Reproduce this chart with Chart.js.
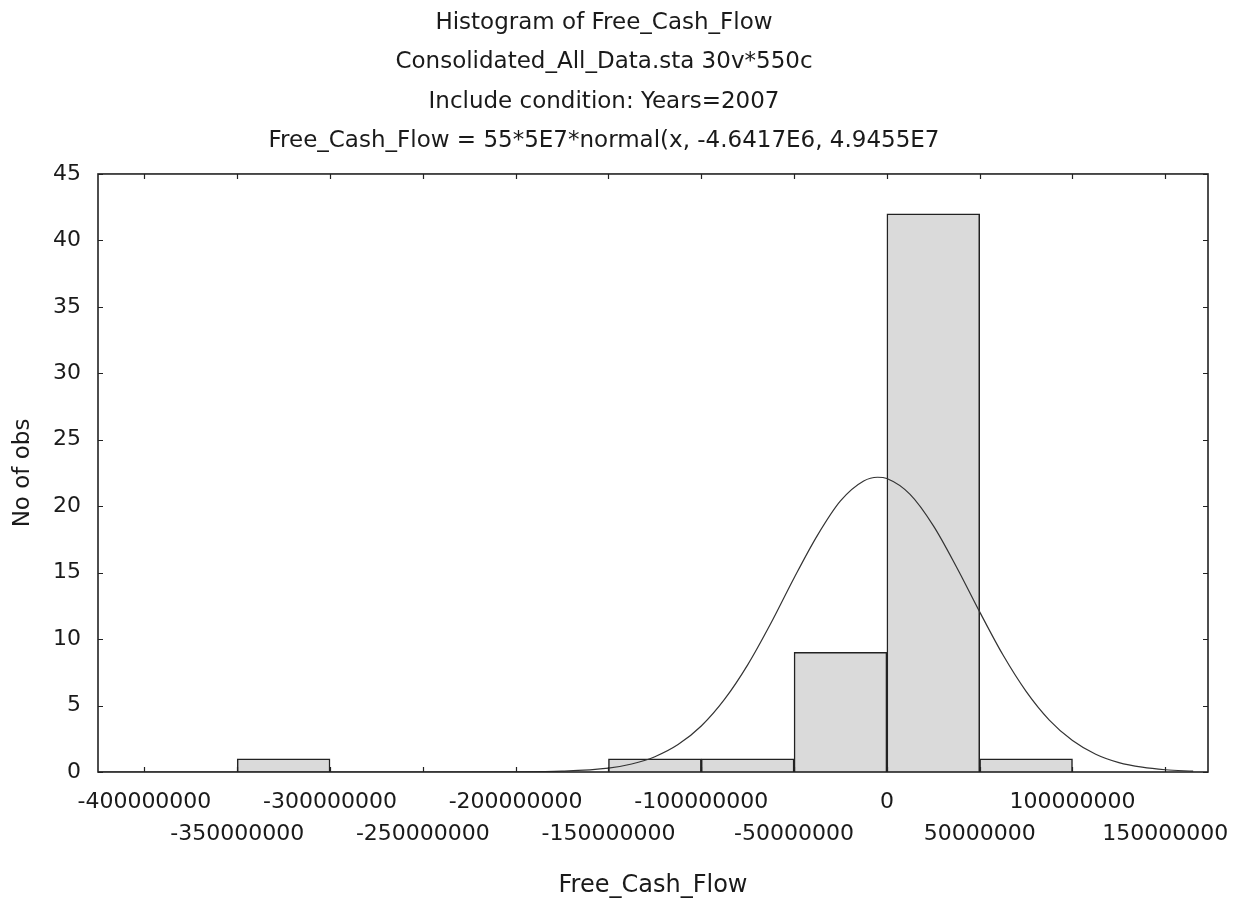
<!DOCTYPE html>
<html>
<head>
<meta charset="utf-8">
<title>Histogram of Free_Cash_Flow</title>
<script src="https://cdn.jsdelivr.net/npm/chart.js@4/dist/chart.umd.min.js"></script>
<style>
  html, body { margin: 0; padding: 0; background: #fff; }
  #wrap { position: relative; width: 1239px; height: 899px; }
</style>
</head>
<body>
<div id="wrap"><canvas id="histChart"></canvas></div>
<script>
// --- data ---
const binCenters = [-325000000, -275000000, -225000000, -175000000, -125000000, -75000000, -25000000, 25000000, 75000000];
const binCounts  = [1, 0, 0, 0, 1, 1, 9, 42, 1];

// fitted normal curve, read at points along its path
const curveX = [-425e6, -250e6, -200e6, -175e6, -150e6, -137.5e6, -125e6, -112.5e6, -100e6, -87.5e6, -75e6, -62.5e6,
                -50e6, -37.5e6, -25e6, -12.5e6, -5e6, 0, 12.5e6, 25e6, 37.5e6, 50e6, 62.5e6, 75e6, 87.5e6,
                100e6, 112.5e6, 125e6, 137.5e6, 150e6, 165e6];
const curveY = [0, 0, 0.01, 0.06, 0.29, 0.6, 1.15, 2.06, 3.46, 5.46, 8.06, 11.19,
                14.6, 17.79, 20.4, 21.9, 22.18, 22.08, 20.89, 18.54, 15.43, 12.05, 8.82, 6.07, 3.91,
                2.37, 1.34, 0.71, 0.36, 0.17, 0.06];

const xTickValues = [-400000000, -350000000, -300000000, -250000000, -200000000, -150000000,
                     -100000000, -50000000, 0, 50000000, 100000000, 150000000];
const xTickLabels = ['-400000000', '-350000000', '-300000000', '-250000000', '-200000000', '-150000000',
                     '-100000000', '-50000000', '0', '50000000', '100000000', '150000000'];
const yTickValues = [0, 5, 10, 15, 20, 25, 30, 35, 40, 45];

const titleLines = [
    'Histogram of Free_Cash_Flow',
    'Consolidated_All_Data.sta 30v*550c',
    'Include condition: Years=2007',
    'Free_Cash_Flow = 55*5E7*normal(x, -4.6417E6, 4.9455E7'
];

Chart.defaults.font.family = '"DejaVu Sans", "Liberation Sans", Arial, sans-serif';
Chart.defaults.color = '#1a1a1a';

// frame round the plot + short inward ticks on all four sides
const framePlugin = {
    id: 'frame',
    afterDraw(chart) {
        const { ctx, chartArea: a, scales: { x, y } } = chart;
        ctx.save();
        ctx.strokeStyle = '#222';
        ctx.lineWidth = 1.6;
        ctx.strokeRect(a.left, a.top, a.right - a.left, a.bottom - a.top);
        ctx.lineWidth = 1.2;
        ctx.beginPath();
        x.ticks.forEach(t => {
            const px = Math.round(x.getPixelForValue(t.value)) + 0.5;
            ctx.moveTo(px, a.bottom); ctx.lineTo(px, a.bottom - 5);
            ctx.moveTo(px, a.top); ctx.lineTo(px, a.top + 5);
        });
        y.ticks.forEach(t => {
            const py = Math.round(y.getPixelForValue(t.value)) + 0.5;
            ctx.moveTo(a.left, py); ctx.lineTo(a.left + 5, py);
            ctx.moveTo(a.right, py); ctx.lineTo(a.right - 5, py);
        });
        ctx.stroke();
        ctx.restore();
    }
};

const ctx = document.getElementById('histChart').getContext('2d');
new Chart(ctx, {
    type: 'bar',
    data: {
        datasets: [{
            type: 'line',
            label: 'normal fit',
            data: curveX.map((v, i) => ({ x: v, y: curveY[i] })),
            borderColor: '#333',
            borderWidth: 1.2,
            pointRadius: 0,
            cubicInterpolationMode: 'monotone',
            fill: false,
            order: 0
        }, {
            label: 'No of obs',
            data: binCenters.map((v, i) => ({ x: v, y: binCounts[i] })),
            backgroundColor: '#dadada',
            borderColor: '#222',
            borderWidth: 1.5,
            barPercentage: 1,
            categoryPercentage: 1,
            order: 1
        }]
    },
    options: {
        responsive: true,
        maintainAspectRatio: false,
        animation: false,
        layout: { padding: { left: 0, right: 31, top: 0, bottom: 0 } },
        scales: {
            x: {
                type: 'linear',
                offset: false,
                min: -425000000,
                max: 173000000,
                grid: { display: false, drawTicks: false, tickLength: 0, offset: false },
                border: { display: false },
                afterBuildTicks: (s) => { s.ticks = xTickValues.map(v => ({ value: v })); },
                afterFit: (s) => { s.height = 127; s.paddingLeft = 0; s.paddingRight = 0; },
                ticks: {
                    autoSkip: false,
                    maxRotation: 0,
                    padding: 14,
                    font: { size: 22, lineHeight: 1.4545 },
                    color: '#1a1a1a',
                    // staggered labels: alternate between first and second row
                    callback: (value, index) => index % 2 === 0 ? [xTickLabels[index], ''] : ['', xTickLabels[index]]
                },
                title: {
                    display: true,
                    text: 'Free_Cash_Flow',
                    font: { size: 24, lineHeight: 1.1 },
                    color: '#1a1a1a',
                    padding: { top: 0, bottom: 0 }
                }
            },
            y: {
                min: 0,
                max: 45,
                grid: { display: false, drawTicks: false, tickLength: 0 },
                border: { display: false },
                afterBuildTicks: (s) => { s.ticks = yTickValues.map(v => ({ value: v })); },
                afterFit: (s) => { s.width = 98; s.paddingTop = 0; s.paddingBottom = 0; },
                ticks: {
                    padding: 17,
                    font: { size: 22 },
                    color: '#1a1a1a'
                },
                title: {
                    display: true,
                    text: 'No of obs',
                    font: { size: 23, lineHeight: 1.2 },
                    color: '#1a1a1a',
                    padding: { top: 9, bottom: 0 }
                }
            }
        },
        plugins: {
            legend: { display: false },
            tooltip: { enabled: false },
            title: {
                display: true,
                text: titleLines,
                color: '#1a1a1a',
                font: { size: 23, weight: 'normal', lineHeight: 1.717 },
                padding: { top: 3, bottom: 13 }
            }
        }
    },
    plugins: [framePlugin]
});
</script>
</body>
</html>
